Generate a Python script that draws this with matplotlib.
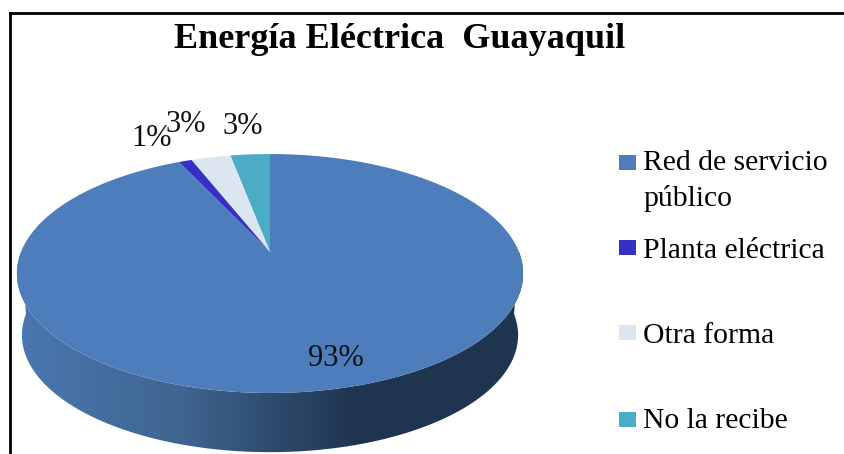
import numpy as np
import matplotlib
matplotlib.use('Agg')
import matplotlib.pyplot as plt
import matplotlib.patches as patches
from matplotlib.colors import LinearSegmentedColormap

plt.rcParams['font.family'] = ['Liberation Serif', 'DejaVu Serif']

title = 'Energía Eléctrica  Guayaquil'
categories = ['Red de servicio\npúblico', 'Planta eléctrica', 'Otra forma', 'No la recibe']
values = [93, 1, 3, 3]
labels = ['93%', '1%', '3%', '3%']
colors = ['#4d7ebb', '#3431c4', '#dce6f1', '#4bacc6']

# label and legend places, in pixels of the picture
label_xy = [(336, 358), (152, 139), (186, 124), (243, 127)]
legend_y = [206, 258, 343, 428]
square_y = [155, 240, 325, 412]

fig = plt.figure(figsize=(8.45, 4.54), dpi=100)
ax = fig.add_axes([0, 0, 1, 1])
ax.set_xlim(0, 845)
ax.set_ylim(454, 0)
ax.axis('off')

# apex of the pie, and the perspective of the tilted disc
apex_x, apex_y = 270, 252
k = 0.18
scale_x, scale_y = 249, 115.6


def rim(start, end, shrink=1.0, drop=0.0):
    # angles in percent, counter-clockwise from the top of the pie
    a = np.linspace(start, end, 200) / 100 * 2 * np.pi
    u, v = np.sin(a), np.cos(a)
    d = 1 + k * v
    return apex_x - shrink * scale_x * u / d, apex_y + drop - shrink * scale_y * v / d


# side wall of the big slice
cmap = LinearSegmentedColormap.from_list('wall', ['#4a78b0', '#3f648f', '#1f3450', '#1f344f'])
x1, y1 = rim(25, 75)
x2, y2 = rim(75, 25, shrink=0.98, drop=62)
wall = patches.Polygon(np.r_[np.c_[x1, y1], np.c_[x2, y2]], closed=True, fc='none', ec='none')
ax.add_patch(wall)
grad = np.linspace(0, 1, 256).reshape(1, -1)
im = ax.imshow(grad, extent=(17, 523, 454, 250), cmap=cmap, aspect='auto', zorder=1)
im.set_clip_path(wall)
ax.set_xlim(0, 845)
ax.set_ylim(454, 0)

# top face, going left from 12 o'clock: last category first
pos = 0
for val, col in zip(values[::-1], colors[::-1]):
    xs, ys = rim(pos, pos + val)
    ax.add_patch(patches.Polygon(np.r_[[[apex_x, apex_y]], np.c_[xs, ys]], closed=True,
                                 fc=col, ec='none', zorder=2))
    pos += val

for (x, y), lab in zip(label_xy, labels):
    ax.text(x, y, lab, fontsize=22, ha='center', va='center', color='#111111', zorder=3)

ax.text(400, 40, title, fontsize=26, weight='bold', ha='center', va='center', color='black')

for y, sy, cat, col in zip(legend_y, square_y, categories, colors):
    ax.add_patch(patches.Rectangle((619, sy), 17, 15, fc=col, ec='none'))
    ax.text(643, y, cat, fontsize=21.3, ha='left', va='baseline', color='black', linespacing=1.44)

# frame of the picture
ax.plot([10, 10], [454, 13], color='black', lw=2)
ax.plot([10, 845], [13, 13], color='black', lw=2)

fig.savefig('out.png', dpi=100)
